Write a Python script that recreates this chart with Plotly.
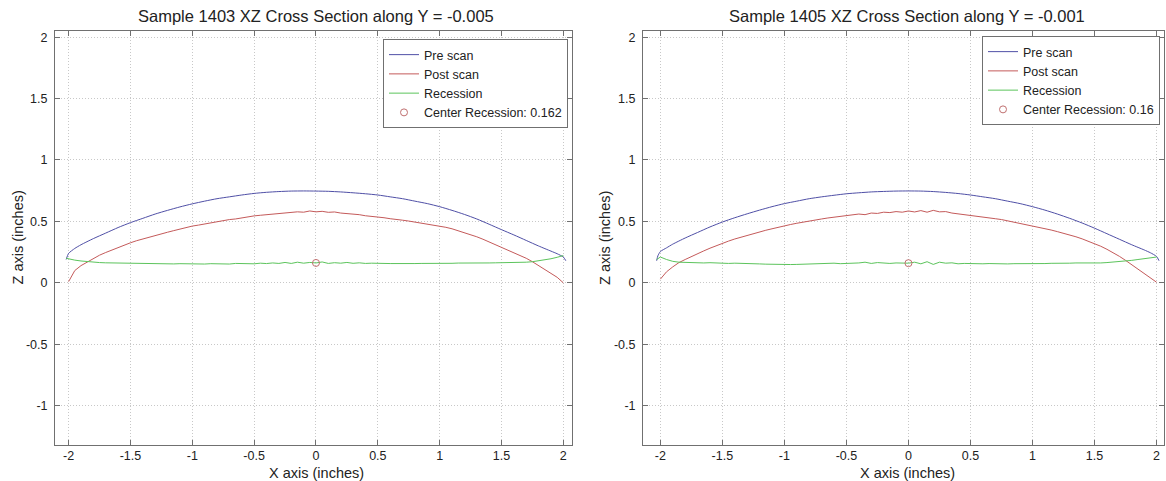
import plotly.graph_objects as go

# ---------------- data ----------------
titles = ["Sample 1403 XZ Cross Section along Y = -0.005",
          "Sample 1405 XZ Cross Section along Y = -0.001"]
x_label = "X axis (inches)"
z_label = "Z axis (inches)"
x_ticks = [-2, -1.5, -1, -0.5, 0, 0.5, 1, 1.5, 2]
x_tick_text = ["-2", "-1.5", "-1", "-0.5", "0", "0.5", "1", "1.5", "2"]
z_ticks = [-1, -0.5, 0, 0.5, 1, 1.5, 2]
z_tick_text = ["-1", "-0.5", "0", "0.5", "1", "1.5", "2"]

# Sample 1403 -- pre scan
x_pre_1403 = [-2.02, -2.0, -1.95, -1.9, -1.8, -1.7, -1.6, -1.5, -1.4, -1.3, -1.2, -1.1, -1.0,
              -0.9, -0.8, -0.7, -0.6, -0.5, -0.4, -0.3, -0.2, -0.1, 0.0, 0.1, 0.2, 0.3, 0.4,
              0.5, 0.6, 0.7, 0.8, 0.9, 1.0, 1.1, 1.2, 1.3, 1.4, 1.5, 1.6, 1.7, 1.8, 1.9,
              1.95, 2.0, 2.02]
z_pre_1403 = [0.19, 0.24, 0.28, 0.31, 0.36, 0.405, 0.45, 0.49, 0.525, 0.56, 0.59, 0.618, 0.643,
              0.665, 0.685, 0.70, 0.715, 0.728, 0.737, 0.743, 0.747, 0.748, 0.747, 0.745, 0.74,
              0.733, 0.725, 0.715, 0.70, 0.685, 0.665, 0.645, 0.62, 0.59, 0.557, 0.52, 0.477,
              0.433, 0.39, 0.345, 0.30, 0.258, 0.237, 0.21, 0.18]

# shared grid for the noisy series
x_fine = [-2.0, -1.95, -1.9, -1.85, -1.8, -1.75, -1.7, -1.65, -1.6, -1.55, -1.5, -1.45, -1.4,
          -1.35, -1.3, -1.25, -1.2, -1.15, -1.1, -1.05, -1.0, -0.95, -0.9, -0.85, -0.8, -0.75,
          -0.7, -0.65, -0.6, -0.55, -0.5, -0.45, -0.4, -0.35, -0.3, -0.25, -0.2, -0.15, -0.1,
          -0.05, 0.0, 0.05, 0.1, 0.15, 0.2, 0.25, 0.3, 0.35, 0.4, 0.45, 0.5, 0.55, 0.6, 0.65,
          0.7, 0.75, 0.8, 0.85, 0.9, 0.95, 1.0, 1.05, 1.1, 1.15, 1.2, 1.25, 1.3, 1.35, 1.4,
          1.45, 1.5, 1.55, 1.6, 1.65, 1.7, 1.75, 1.8, 1.85, 1.9, 1.95, 2.0]

# Sample 1403 -- post scan
z_post_1403 = [0.01, 0.10, 0.14, 0.17, 0.20, 0.225, 0.247, 0.268, 0.288, 0.308, 0.326, 0.343, 0.358,
               0.372, 0.386, 0.40, 0.412, 0.425, 0.438, 0.45, 0.462, 0.47, 0.48, 0.49, 0.50, 0.505,
               0.515, 0.52, 0.53, 0.54, 0.545, 0.55, 0.555, 0.56, 0.565, 0.57, 0.572, 0.578,
               0.575, 0.585, 0.578, 0.582, 0.574, 0.577, 0.568, 0.565, 0.557, 0.555, 0.546,
               0.542, 0.535, 0.53, 0.522, 0.518, 0.51, 0.503, 0.495, 0.488, 0.48, 0.472, 0.465,
               0.452, 0.44, 0.425, 0.41, 0.393, 0.375, 0.355, 0.333, 0.312, 0.29, 0.268, 0.245,
               0.222, 0.20, 0.172, 0.142, 0.112, 0.08, 0.045, 0.0]

# Sample 1403 -- recession
x_rec_1403 = [-2.02] + x_fine
z_rec_1403 = [0.20, 0.195, 0.185, 0.178, 0.172, 0.168, 0.165, 0.163, 0.162, 0.16, 0.158, 0.158,
              0.157, 0.159, 0.156, 0.155, 0.157, 0.155, 0.154, 0.156, 0.154, 0.153, 0.155,
              0.153, 0.156, 0.154, 0.155, 0.153, 0.158, 0.155, 0.157, 0.155, 0.16, 0.157, 0.162,
              0.158, 0.166, 0.158, 0.168, 0.16, 0.166, 0.162, 0.17, 0.158, 0.164, 0.16, 0.166,
              0.159, 0.163, 0.158, 0.16, 0.156, 0.158, 0.157, 0.156, 0.158, 0.156, 0.157, 0.158,
              0.157, 0.159, 0.158, 0.16, 0.159, 0.161, 0.16, 0.162, 0.161, 0.163, 0.162, 0.163,
              0.163, 0.163, 0.164, 0.166, 0.168, 0.172, 0.178, 0.186, 0.196, 0.208, 0.222]

# Sample 1405 -- pre scan
x_pre_1405 = [-2.03, -2.02, -2.0, -1.95, -1.9, -1.8, -1.7, -1.6, -1.5, -1.4, -1.3, -1.2, -1.1,
              -1.0, -0.9, -0.8, -0.7, -0.6, -0.5, -0.4, -0.3, -0.2, -0.1, 0.0, 0.1, 0.2, 0.3,
              0.4, 0.5, 0.6, 0.7, 0.8, 0.9, 1.0, 1.1, 1.2, 1.3, 1.4, 1.5, 1.6, 1.7, 1.8, 1.9,
              1.95, 2.0, 2.02]
z_pre_1405 = [0.18, 0.22, 0.255, 0.285, 0.315, 0.365, 0.41, 0.455, 0.495, 0.53, 0.562, 0.592,
              0.62, 0.645, 0.665, 0.685, 0.70, 0.713, 0.725, 0.733, 0.74, 0.744, 0.747, 0.748,
              0.747, 0.743, 0.736, 0.727, 0.715, 0.70, 0.685, 0.665, 0.645, 0.62, 0.592, 0.56,
              0.525, 0.487, 0.445, 0.40, 0.355, 0.31, 0.268, 0.245, 0.215, 0.18]

# Sample 1405 -- post scan
z_post_1405 = [0.03, 0.09, 0.13, 0.165, 0.19, 0.215, 0.238, 0.26, 0.282, 0.303, 0.322, 0.34,
               0.357, 0.372, 0.386, 0.40, 0.414, 0.428, 0.44, 0.453, 0.465, 0.475, 0.485, 0.495,
               0.505, 0.51, 0.52, 0.528, 0.535, 0.54, 0.548, 0.555, 0.56, 0.555, 0.568, 0.565,
               0.575, 0.572, 0.58, 0.575, 0.585, 0.577, 0.588, 0.575, 0.59, 0.578, 0.58, 0.568,
               0.562, 0.558, 0.55, 0.545, 0.537, 0.532, 0.522, 0.515, 0.505, 0.495, 0.483,
               0.472, 0.46, 0.45, 0.44, 0.43, 0.417, 0.404, 0.39, 0.375, 0.358, 0.34, 0.32,
               0.298, 0.273, 0.246, 0.216, 0.183, 0.148, 0.112, 0.076, 0.04, 0.005]

# Sample 1405 -- recession
x_rec_1405 = [-2.03] + x_fine
z_rec_1405 = [0.19, 0.21, 0.19, 0.175, 0.168, 0.165, 0.163, 0.165, 0.162, 0.164, 0.16, 0.162,
              0.158, 0.16, 0.157, 0.158, 0.155, 0.154, 0.152, 0.15, 0.149, 0.148, 0.149, 0.15,
              0.152, 0.155, 0.153, 0.158, 0.155, 0.16, 0.156, 0.158, 0.155, 0.162, 0.168, 0.158,
              0.165, 0.16, 0.158, 0.162, 0.16, 0.16, 0.168, 0.155, 0.172, 0.15, 0.168, 0.16,
              0.163, 0.155, 0.158, 0.156, 0.158, 0.155, 0.157, 0.154, 0.155, 0.154, 0.156,
              0.155, 0.157, 0.157, 0.158, 0.157, 0.159, 0.158, 0.16, 0.16, 0.162, 0.161, 0.163,
              0.163, 0.162, 0.165, 0.168, 0.172, 0.177, 0.183, 0.19, 0.198, 0.205, 0.21]

center_x = [0.0, 0.0]
center_z = [0.162, 0.16]
center_text = ["0.162", "0.16"]

# ---------------- styling ----------------
FONT = "Liberation Sans, Arial, sans-serif"
C_PRE = "#4f4fa6"
C_POST = "#c45a5a"
C_REC = "#5cc45c"
C_MARK = "#c07070"
AX = "#707070"
W, H = 1166, 481

fig = go.Figure()

panels = [
    (x_pre_1403, z_pre_1403, z_post_1403, x_rec_1403, z_rec_1403, "x", "y", "legend"),
    (x_pre_1405, z_pre_1405, z_post_1405, x_rec_1405, z_rec_1405, "x2", "y2", "legend2"),
]
for i, (xp, zp, zpo, xr, zr, xa, ya, lg) in enumerate(panels):
    fig.add_trace(go.Scatter(x=xp, y=zp, mode="lines", name="Pre scan", xaxis=xa, yaxis=ya,
                             legend=lg, line=dict(color=C_PRE, width=1, shape="spline",
                                                  smoothing=0.6)))
    fig.add_trace(go.Scatter(x=x_fine, y=zpo, mode="lines", name="Post scan", xaxis=xa, yaxis=ya,
                             legend=lg, line=dict(color=C_POST, width=1)))
    fig.add_trace(go.Scatter(x=xr, y=zr, mode="lines", name="Recession", xaxis=xa, yaxis=ya,
                             legend=lg, line=dict(color=C_REC, width=1)))
    fig.add_trace(go.Scatter(x=[center_x[i]], y=[center_z[i]], mode="markers",
                             name="Center Recession: " + center_text[i], xaxis=xa, yaxis=ya,
                             legend=lg,
                             marker=dict(symbol="circle-open", size=7, color=C_MARK,
                                         line=dict(width=1, color=C_MARK))))

GRID = dict(showgrid=True, gridcolor="#c8c8c8", griddash="1px,2px", gridwidth=1)

def xaxis(dom, rng, anchor):
    return dict(domain=dom, range=rng, anchor=anchor, tickvals=x_ticks, ticktext=x_tick_text,
                showline=True, linecolor=AX, linewidth=1, mirror="ticks", ticks="inside",
                ticklen=5, tickcolor=AX, zeroline=False, ticklabelstandoff=-1,
                tickfont=dict(family=FONT, size=12.5, color="#222"), **GRID)

def yaxis(dom, rng, anchor):
    return dict(domain=dom, range=rng, anchor=anchor, tickvals=z_ticks, ticktext=z_tick_text,
                showline=True, linecolor=AX, linewidth=1, mirror="ticks", ticks="inside",
                ticklen=5, tickcolor=AX, zeroline=False, ticklabelstandoff=4,
                tickfont=dict(family=FONT, size=12.5, color="#222"), **GRID)

ydom = [1 - 445 / H, 1 - 31 / H]
legend_common = dict(bgcolor="white", bordercolor="#707070", borderwidth=1,
                     font=dict(family=FONT, size=12.5, color="#222"),
                     xanchor="right", yanchor="top", tracegroupgap=0, itemwidth=30)

fig.update_layout(
    width=W, height=H,
    margin=dict(l=0, r=0, t=0, b=0),
    paper_bgcolor="white", plot_bgcolor="white",
    font=dict(family=FONT, color="#222"),
    showlegend=True,
    xaxis=xaxis([55 / W, 572 / W], [-2.11, 2.07], "y"),
    yaxis=yaxis(ydom, [-1.32, 2.05], "x"),
    xaxis2=xaxis([643 / W, 1164 / W], [-2.14, 2.06], "y2"),
    yaxis2=yaxis(ydom, [-1.32, 2.05], "x2"),
    legend=dict(x=568 / W, y=1 - 39 / H, **legend_common),
    legend2=dict(x=1160 / W, y=1 - 36 / H, **legend_common),
)

annots = []
for cx, t, zx in [(316, titles[0], 17.5), (907, titles[1], 605)]:
    annots.append(dict(x=cx / W, y=1 - 16.5 / H, xref="paper", yref="paper", text=t,
                       showarrow=False, xanchor="center", yanchor="middle",
                       font=dict(family=FONT, size=16.5, color="#222")))
    annots.append(dict(x=cx / W, y=1 - 473 / H, xref="paper", yref="paper", text=x_label,
                       showarrow=False, xanchor="center", yanchor="middle",
                       font=dict(family=FONT, size=14.5, color="#222")))
    annots.append(dict(x=zx / W, y=1 - 238 / H, xref="paper", yref="paper", text=z_label,
                       showarrow=False, xanchor="center", yanchor="middle", textangle=-90,
                       font=dict(family=FONT, size=14.5, color="#222")))
fig.update_layout(annotations=annots)

fig.write_html("out.html", config={"displayModeBar": False},
               post_script="document.body.style.margin='0';")
